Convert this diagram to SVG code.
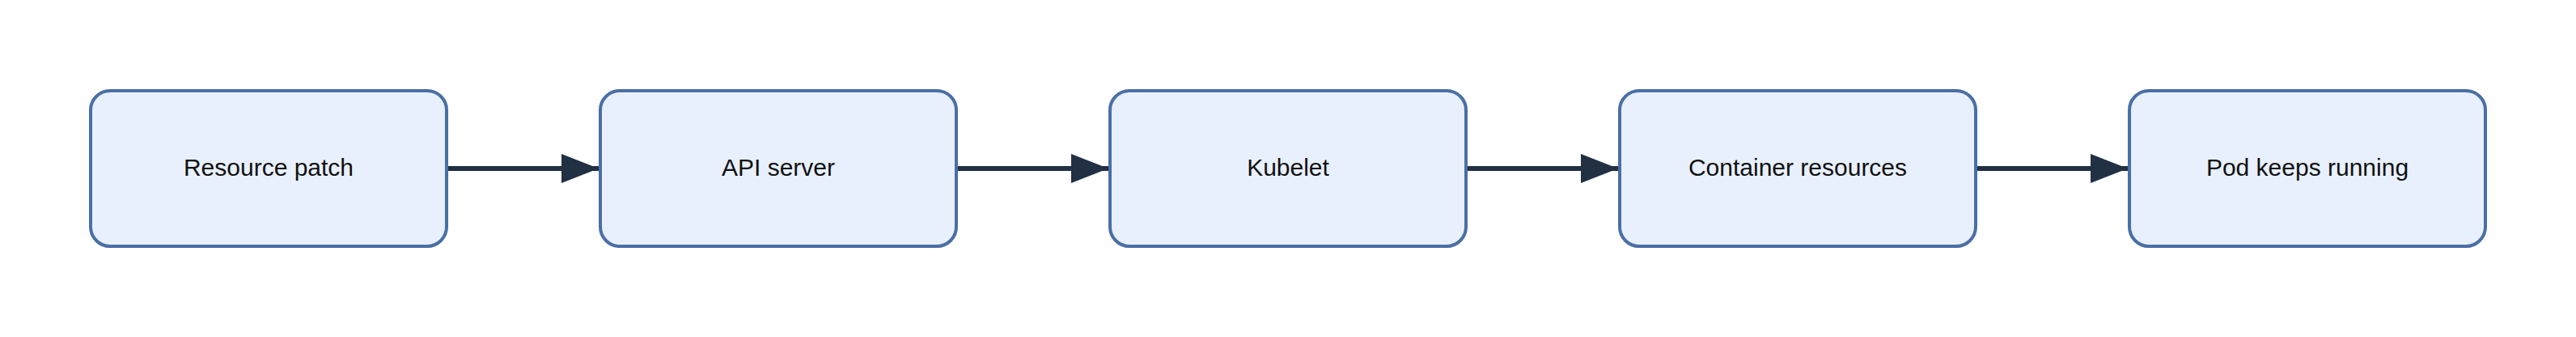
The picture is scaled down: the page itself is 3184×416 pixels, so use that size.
<svg xmlns="http://www.w3.org/2000/svg" width="3184" height="416" viewBox="0 0 3184 416">
<style>
.node rect{fill:#E8F0FE;stroke:#4A6FA5;stroke-width:4}
.node text{font-family:"Liberation Sans",Arial,sans-serif;font-size:30px;fill:#111111;text-anchor:middle}
.edge{stroke:#223044;stroke-width:6;fill:none}
</style>
<defs>
<marker id="arrow" markerUnits="userSpaceOnUse" markerWidth="46" markerHeight="36" refX="46" refY="18" orient="auto">
<path d="M0,0 L46,18 L0,36 Z" fill="#223044"/>
</marker>
</defs>
<rect width="3184" height="416" fill="#ffffff"/>
<g id="connectors">
<line class="edge" x1="554" y1="208" x2="740" y2="208" marker-end="url(#arrow)"/>
<line class="edge" x1="1184" y1="208" x2="1370" y2="208" marker-end="url(#arrow)"/>
<line class="edge" x1="1814" y1="208" x2="2000" y2="208" marker-end="url(#arrow)"/>
<line class="edge" x1="2444" y1="208" x2="2630" y2="208" marker-end="url(#arrow)"/>
</g>
<g id="node-resource-patch" class="node">
<rect x="112" y="112" width="440" height="192" rx="24" ry="24"/>
<text x="332" y="217">Resource patch</text>
</g>
<g id="node-api-server" class="node">
<rect x="742" y="112" width="440" height="192" rx="24" ry="24"/>
<text x="962" y="217">API server</text>
</g>
<g id="node-kubelet" class="node">
<rect x="1372" y="112" width="440" height="192" rx="24" ry="24"/>
<text x="1592" y="217">Kubelet</text>
</g>
<g id="node-container-resources" class="node">
<rect x="2002" y="112" width="440" height="192" rx="24" ry="24"/>
<text x="2222" y="217">Container resources</text>
</g>
<g id="node-pod-keeps-running" class="node">
<rect x="2632" y="112" width="440" height="192" rx="24" ry="24"/>
<text x="2852" y="217">Pod keeps running</text>
</g>
</svg>
